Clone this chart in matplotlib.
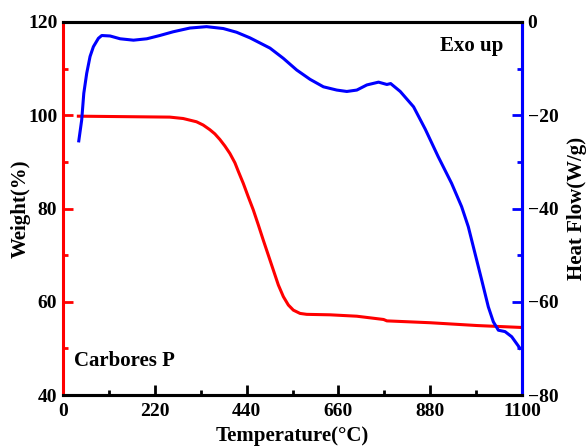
import matplotlib
matplotlib.use("Agg")
import matplotlib.pyplot as plt
from matplotlib.ticker import MultipleLocator

plt.rcParams["font.family"] = ["Liberation Serif", "DejaVu Serif"]
plt.rcParams["font.weight"] = "bold"

# TGA weight curve
t_weight = [37, 256, 288, 320, 336, 352, 364, 376, 388, 400, 412, 420, 432, 444,
            456, 468, 480, 492, 504, 516, 528, 540, 552, 568, 584, 640, 704, 768,
            776, 880, 992, 1095]
weight = [99.8, 99.6, 99.3, 98.6, 97.9, 96.9, 96.0, 94.8, 93.4, 91.8, 89.8, 88.0,
          85.4, 82.5, 79.7, 76.5, 73.2, 70.0, 66.8, 63.6, 61.1, 59.3, 58.2, 57.5,
          57.3, 57.2, 56.9, 56.2, 55.9, 55.5, 54.9, 54.5]

# DSC heat flow curve
t_heat = [38, 45, 50, 57, 65, 73, 85, 93, 113, 137, 169, 201, 232, 264, 304, 344,
          384, 416, 448, 496, 528, 560, 592, 624, 656, 680, 704, 728, 756, 776, 785,
          808, 840, 868, 899, 931, 955, 971, 987, 1003, 1019, 1031, 1043, 1059,
          1075, 1095]
heat = [-25.5, -21.0, -15.3, -11.0, -7.4, -5.3, -3.5, -2.9, -3.0, -3.6, -3.9, -3.6,
        -2.9, -2.1, -1.3, -1.0, -1.4, -2.2, -3.4, -5.6, -7.8, -10.3, -12.3, -13.9,
        -14.6, -14.9, -14.6, -13.5, -12.9, -13.4, -13.2, -14.9, -18.2, -23.0, -28.9,
        -34.6, -39.6, -43.9, -49.6, -55.3, -61.1, -64.3, -66.1, -66.4, -67.5, -70.0]

fig = plt.figure(figsize=(5.88, 4.47), dpi=100)
ax = fig.add_axes([0.107, 0.1163, 0.781, 0.8345])
ax2 = ax.twinx()

ax.plot(t_weight, weight, color="#ff0000", lw=2.2, solid_joinstyle="round")
ax2.plot(t_heat, heat, color="#0000ff", lw=2.2, solid_joinstyle="round")

ax.set_xlim(0, 1100)
ax.set_ylim(40, 120)
ax2.set_ylim(-80, 0)
ax.set_xticks([0, 220, 440, 660, 880, 1100])
ax.xaxis.set_minor_locator(MultipleLocator(110))
ax.yaxis.set_major_locator(MultipleLocator(20))
ax.yaxis.set_minor_locator(MultipleLocator(10))
ax2.yaxis.set_major_locator(MultipleLocator(20))
ax2.yaxis.set_minor_locator(MultipleLocator(10))

for a in (ax, ax2):
    for s in a.spines.values():
        s.set_linewidth(2.2)
ax.spines["left"].set_color("#ff0000")
ax.spines["bottom"].set_color("black")
ax.spines["top"].set_color("black")
ax2.spines["right"].set_color("#0000ff")
ax2.spines["left"].set_visible(False)

ax.tick_params(axis="x", which="both", direction="in", top=False, width=2, labelsize=14, pad=6)
ax.tick_params(axis="x", which="major", length=7)
ax.tick_params(axis="x", which="minor", length=3.5)
ax.tick_params(axis="y", which="both", direction="in", color="#ff0000", width=2, labelsize=14, pad=4)
ax.tick_params(axis="y", which="major", length=7)
ax.tick_params(axis="y", which="minor", length=3.5)
ax2.tick_params(axis="y", which="both", direction="in", color="#0000ff", width=2, labelsize=14, pad=4)
ax2.tick_params(axis="y", which="major", length=7)
ax2.tick_params(axis="y", which="minor", length=3.5)

ax.set_xlabel("Temperature(°C)", fontsize=15, fontweight="bold")
ax.set_ylabel("Weight(%)", fontsize=15, fontweight="bold")
ax2.set_ylabel("Heat Flow(W/g)", fontsize=15, fontweight="bold")
ax.xaxis.set_label_coords(0.5, -0.084)
ax.yaxis.set_label_coords(-0.070, 0.5)
ax2.yaxis.set_label_coords(1.097, 0.5)

ax.text(0.96, 0.935, "Exo up", transform=ax.transAxes, ha="right", va="center",
        fontsize=15, fontweight="bold")
ax.text(0.025, 0.09, "Carbores P", transform=ax.transAxes, ha="left", va="center",
        fontsize=15, fontweight="bold")

fig.savefig("out.png", dpi=100)
